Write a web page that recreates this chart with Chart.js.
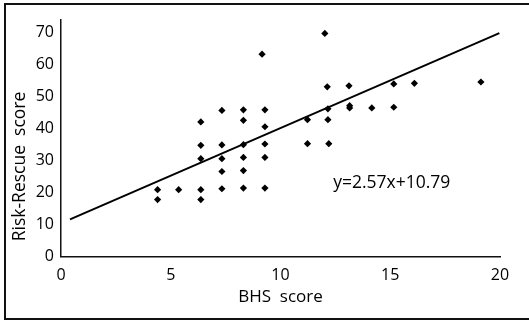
<!DOCTYPE html>
<html>
<head>
<meta charset="utf-8">
<script src="https://cdn.jsdelivr.net/npm/chart.js@4/dist/chart.umd.min.js"></script>
<style>
  html, body { margin: 0; padding: 0; background: #fff; }
  #wrap { position: relative; width: 529px; height: 321px; overflow: hidden; }
  #frame { position: absolute; left: 4px; top: 3px; width: 600px; height: 313px;
           border: 2px solid #111; border-right: none; }
  canvas { position: absolute; left: 0; top: 0; }
</style>
</head>
<body>
<div id="wrap">
  <div id="frame"></div>
  <canvas id="scatterChart" width="529" height="321"></canvas>
</div>
<script>
// BHS score (x) and Risk-Rescue score (y)
const bhsScores = [4.40, 4.40, 5.36, 6.37, 6.37, 6.37, 6.37, 6.37,
    7.33, 7.33, 7.33, 7.33, 7.33, 8.31, 8.31, 8.31, 8.31, 8.31, 8.31,
    9.29, 9.29, 9.29, 9.29, 9.29, 9.16, 11.23, 11.23,
    12.02, 12.13, 12.16, 12.16, 12.20, 13.12, 13.15, 13.15, 14.16,
    15.16, 15.16, 16.10, 19.13];
const riskRescue = [20.9, 17.8, 20.9, 42.1, 34.8, 30.6, 20.9, 17.8,
    45.7, 34.9, 30.6, 26.6, 21.2, 45.9, 42.6, 35.0, 31.0, 26.9, 21.4,
    45.9, 40.6, 35.2, 31.0, 21.4, 63.3, 42.8, 35.3,
    69.8, 53.1, 46.2, 42.8, 35.3, 53.4, 47.2, 46.5, 46.5,
    54.0, 46.7, 54.2, 54.6];

// fitted line as drawn (end points)
const fitX = [0.41, 19.97];
const fitY = [11.6, 69.9];
const equationText = 'y=2.57x+10.79';

const xTicks = [0, 5, 10, 15, 20];
const yTicks = [0, 10, 20, 30, 40, 50, 60, 70];

const fontFamily = '"Open Sans", "Noto Sans", sans-serif';

const points = bhsScores.map((x, i) => ({x: x, y: riskRescue[i]}));
const fitLine = fitX.map((x, i) => ({x: x, y: fitY[i]}));

// equation label + rotated y title
const labelsPlugin = {
    id: 'labels',
    afterDraw(chart) {
        const ctx = chart.ctx;
        const xs = chart.scales.x, ys = chart.scales.y;
        ctx.save();
        ctx.fillStyle = '#000';
        ctx.font = '17.5px ' + fontFamily;
        ctx.textAlign = 'center';
        ctx.textBaseline = 'middle';
        ctx.fillText(equationText, xs.getPixelForValue(15.07), ys.getPixelForValue(23.1));

        ctx.translate(chart.chartArea.left - 41, chart.chartArea.bottom - 90);
        ctx.rotate(-Math.PI / 2);
        ctx.fillText('Risk-Rescue  score', 0, 0);
        ctx.restore();
    }
};

const config = {
    type: 'scatter',
    data: {
        datasets: [
            {
                label: 'cases',
                data: points,
                pointStyle: 'rectRot',
                pointRadius: 3.6,
                backgroundColor: '#000',
                borderColor: '#000',
                borderWidth: 0
            },
            {
                label: 'fit',
                type: 'line',
                data: fitLine,
                borderColor: '#000',
                borderWidth: 2,
                pointRadius: 0,
                fill: false
            }
        ]
    },
    options: {
        responsive: false,
        animation: false,
        layout: { padding: { left: 11, top: 20, right: 29, bottom: 0 } },
        plugins: {
            legend: { display: false },
            tooltip: { enabled: false }
        },
        scales: {
            x: {
                type: 'linear',
                min: 0,
                max: 20,
                afterFit(scale) { scale.height = 64.5; },
                afterBuildTicks(scale) { scale.ticks = xTicks.map(v => ({value: v})); },
                grid: { display: false, drawTicks: false },
                border: { display: true, color: '#111', width: 1.5 },
                ticks: { color: '#000', padding: 9, maxRotation: 0, font: { size: 16, family: fontFamily } },
                title: {
                    display: true,
                    text: 'BHS  score',
                    color: '#000',
                    font: { size: 17, family: fontFamily },
                    padding: { top: 0, bottom: 14 }
                }
            },
            y: {
                type: 'linear',
                min: 0,
                max: 74,
                afterFit(scale) { scale.width = 50; },
                afterBuildTicks(scale) { scale.ticks = yTicks.map(v => ({value: v})); },
                grid: { display: false, drawTicks: false },
                border: { display: true, color: '#111', width: 1.5 },
                ticks: { color: '#000', padding: 7, font: { size: 16, family: fontFamily } }
            }
        }
    },
    plugins: [labelsPlugin]
};

const scatterChart = new Chart(document.getElementById('scatterChart').getContext('2d'), config);
</script>
</body>
</html>
